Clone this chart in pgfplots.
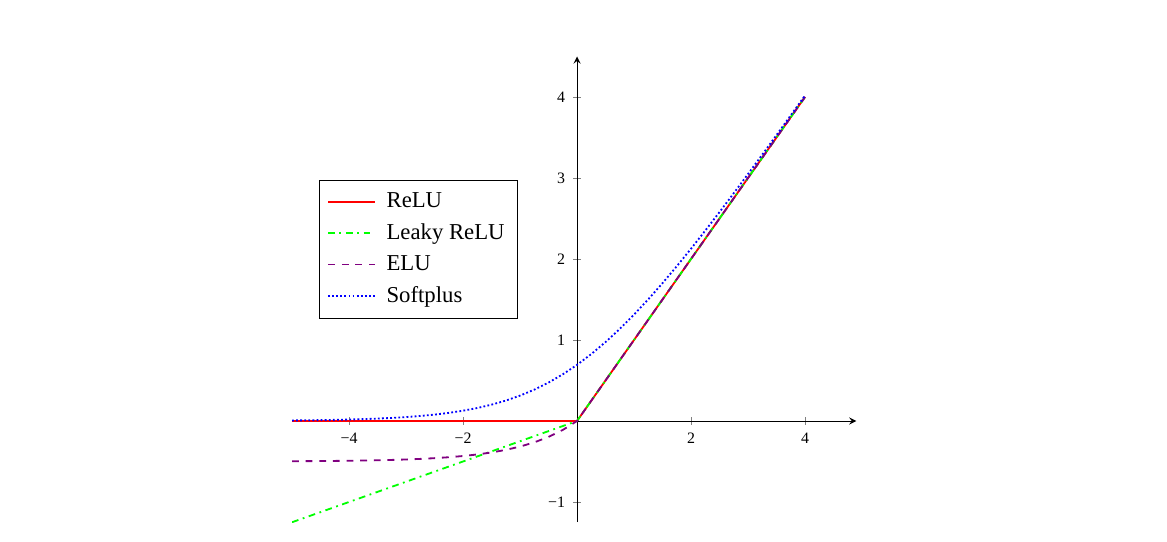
\documentclass[border=0pt]{standalone}
\usepackage{pgfplots}
\pgfplotsset{compat=1.18}
\usepackage{fontspec}
\setmainfont{Liberation Serif}
\definecolor{elupurple}{RGB}{128,0,128}
\begin{document}
\begin{tikzpicture}
\begin{axis}[
  at={(253.88pt,52.8pt)}, anchor=origin,
  x=25.08pt, y=35.64pt,
  axis lines=middle,
  xmin=-5, xmax=4.9, ymin=-1.25, ymax=4.5,
  xtick={-4,-2,2,4}, ytick={-1,1,2,3,4},
  xticklabels={−4,−2,2,4}, yticklabels={−1,1,2,3,4},
  tick label style={font=\scriptsize},
  major tick style={gray, thin},
  major tick length=3.5pt,
  axis line style={thin, black},
  legend cell align=left,
  legend style={at={(axis cs:-4.53,2.975)}, anchor=north west, font=\normalsize,
    draw=black, row sep=1.5pt, inner sep=3.5pt},
  legend image code/.code={\draw[#1] (0cm,0cm) -- (0.72cm,0cm); \path (0.82cm,0cm);},
]
\addplot[red, thick] coordinates {(-5,0) (0,0) (4,4)};
\addlegendentry{ReLU}
\addplot[green, thick, dashdotted] coordinates {(-5,-1.25) (0,0) (4,4)};
\addlegendentry{Leaky ReLU}
\addplot[elupurple, thick, dashed] coordinates {
(-5,-0.496631) (-4.75,-0.495674) (-4.5,-0.494446) (-4.25,-0.492868) (-4,-0.490842)
(-3.75,-0.488241) (-3.5,-0.484902) (-3.25,-0.480613) (-3,-0.475106) (-2.75,-0.468036)
(-2.5,-0.458958) (-2.25,-0.447301) (-2,-0.432332) (-1.75,-0.413113) (-1.5,-0.388435)
(-1.25,-0.356748) (-1,-0.316060) (-0.75,-0.263817) (-0.5,-0.196735) (-0.25,-0.110600)
(0,0) (4,4)};
\addlegendentry{ELU}
\addplot[blue, thick, densely dotted] coordinates {
(-5,0.006715) (-4.75,0.008615) (-4.5,0.011048) (-4.25,0.014163) (-4,0.018150)
(-3.75,0.023246) (-3.5,0.029750) (-3.25,0.038041) (-3,0.048587) (-2.75,0.061967)
(-2.5,0.078889) (-2.25,0.100202) (-2,0.126928) (-1.75,0.160222) (-1.5,0.201413)
(-1.25,0.251929) (-1,0.313262) (-0.75,0.386871) (-0.5,0.474077) (-0.25,0.576153)
(0,0.693147) (0.25,0.826153) (0.5,0.974077) (0.75,1.136871) (1,1.313262)
(1.25,1.501929) (1.5,1.701413) (1.75,1.910222) (2,2.126928) (2.25,2.350202)
(2.5,2.578889) (2.75,2.811967) (3,3.048587) (3.25,3.288041) (3.5,3.529750)
(3.75,3.773246) (4,4.018150)};
\addlegendentry{Softplus}
\end{axis}
\pgfresetboundingbox
\useasboundingbox (0,0) rectangle (513.48pt,238.04pt);
\end{tikzpicture}
\end{document}
